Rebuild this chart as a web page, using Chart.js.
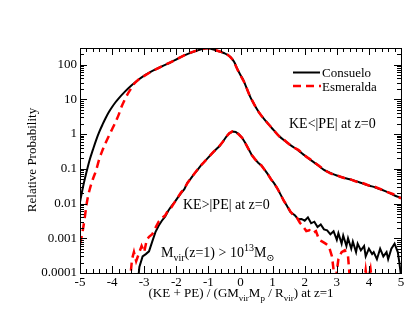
<!DOCTYPE html>
<html>
<head>
<meta charset="utf-8">
<script src="https://cdn.jsdelivr.net/npm/chart.js@4.4.0/dist/chart.umd.min.js"></script>
<style>
body { margin: 0; background: #fff; }
#wrap { width: 415px; height: 321px; }
</style>
</head>
<body>
<div id="wrap"><canvas id="myChart" width="415" height="321"></canvas></div>
<script>
// upper branch: KE<|PE| at z=0
var upperX = [-5, -4.9, -4.8, -4.7, -4.6, -4.5, -4.4, -4.3, -4.2, -4.1, -4.0, -3.9, -3.8, -3.6, -3.4, -3.2, -3.0,
  -2.8, -2.6, -2.4, -2.2, -2.0, -1.8, -1.6, -1.4, -1.2, -1.1, -1.0, -0.9, -0.8, -0.7, -0.6, -0.5, -0.4,
  -0.3, -0.2, -0.1, 0, 0.1, 0.2, 0.3, 0.4, 0.5, 0.6, 0.8, 1.0, 1.2, 1.4, 1.6, 1.8, 2.0, 2.2, 2.4, 2.6,
  2.8, 3.0, 3.2, 3.4, 3.6, 3.8, 4.0, 4.2, 4.4, 4.6, 4.8, 5.0];
var consueloUpper = [0.011, 0.032, 0.079, 0.18, 0.35, 0.66, 1.15, 1.86, 2.9, 4.3, 6, 8.1, 10.5, 16.6, 25, 35.5, 48,
  62, 76, 93, 113, 140, 175, 210, 245, 280, 292, 295, 282, 263, 246, 230, 212, 190,
  160, 120, 75, 50, 34, 20, 12, 8, 5.4, 3.9, 2.3, 1.4, 0.88, 0.62, 0.45, 0.34, 0.24, 0.175, 0.13, 0.093,
  0.076, 0.064, 0.056, 0.05, 0.044, 0.038, 0.033, 0.029, 0.025, 0.021, 0.017, 0.0145];
var esmeraldaUpperX = [-5, -4.95, -4.9, -4.85, -4.8, -4.75, -4.7, -4.6, -4.5, -4.4, -4.3, -4.2, -4.1, -4.0,
  -3.9, -3.8, -3.7, -3.6, -3.5, -3.4, -3.3, -3.2, -3.0, -2.8, -2.6, -2.4, -2.2, -2.0, -1.8, -1.6, -1.4,
  -1.2, -1.1, -1.0, -0.9, -0.8, -0.7, -0.6, -0.5, -0.4, -0.3, -0.2, -0.1, 0, 0.1, 0.2, 0.3, 0.4, 0.5,
  0.6, 0.8, 1.0, 1.2, 1.4, 1.6, 1.8, 2.0, 2.2, 2.4, 2.6, 2.8, 3.0, 3.2, 3.4, 3.6, 3.8, 4.0, 4.2, 4.4,
  4.6, 4.8, 5.0];
var esmeraldaUpper = [0.0007, 0.0011, 0.002, 0.004, 0.0089, 0.016, 0.025, 0.05, 0.089, 0.19, 0.34, 0.56, 0.89, 1.38,
  2.14, 3.5, 6.3, 10, 15, 21, 29, 35.5, 47, 61, 76, 94, 114, 140, 176, 212, 246,
  281, 293, 296, 283, 262, 247, 231, 213, 191, 158, 118, 74, 49, 33, 20, 12, 8, 5.3,
  3.9, 2.3, 1.42, 0.87, 0.63, 0.44, 0.35, 0.24, 0.18, 0.13, 0.095, 0.074, 0.065, 0.055, 0.051, 0.043, 0.039, 0.033, 0.03, 0.025,
  0.021, 0.018, 0.014];

// lower branch: KE>|PE| at z=0
var consueloLowerX = [-3.2, -3.15, -3.05, -2.95, -2.85, -2.75, -2.65, -2.55, -2.45, -2.35, -2.25, -2.15,
  -2.05, -1.95, -1.85, -1.75, -1.65, -1.55, -1.45, -1.35, -1.25, -1.15, -1.05, -0.95, -0.85, -0.75, -0.65,
  -0.55, -0.45, -0.35, -0.25, -0.15, -0.05, 0.05, 0.15, 0.25, 0.35, 0.45, 0.55, 0.65, 0.75, 0.85, 0.95,
  1.05, 1.15, 1.25, 1.35, 1.45, 1.55, 1.7, 1.8, 1.9, 2.0, 2.1, 2.2, 2.3, 2.4, 2.5, 2.6, 2.7, 2.8, 2.9,
  3.0, 3.05, 3.15, 3.2, 3.3, 3.35, 3.45, 3.5, 3.6, 3.65, 3.75, 3.85, 3.9, 4.0, 4.1, 4.15, 4.25, 4.35,
  4.45, 4.55, 4.6, 4.7, 4.8, 4.9, 4.95, 5.0];
var consueloLower = [0.00005, 0.00015, 0.0003, 0.00035, 0.00042, 0.0008, 0.0015, 0.0023, 0.0032, 0.0042, 0.0062, 0.0085,
  0.011, 0.015, 0.02, 0.026, 0.04, 0.052, 0.07, 0.09, 0.12, 0.15, 0.19, 0.24, 0.3, 0.37, 0.45,
  0.6, 0.82, 1.05, 1.18, 1.15, 0.98, 0.78, 0.55, 0.37, 0.25, 0.19, 0.15, 0.125, 0.095, 0.07, 0.05,
  0.038, 0.027, 0.018, 0.012, 0.0085, 0.0058, 0.0045, 0.0035, 0.0036, 0.0032, 0.004, 0.0027, 0.003, 0.0021, 0.0025, 0.0018, 0.0017, 0.0013, 0.0016,
  0.0009, 0.0014, 0.0007, 0.0012, 0.0006, 0.001, 0.0005, 0.0008, 0.0004, 0.0007, 0.00045, 0.0006, 0.0003, 0.0005, 0.00035, 0.0004, 0.00025, 0.0005,
  0.0003, 0.0004, 0.00025, 0.0005, 0.0007, 0.0004, 0.0002, 0.00008];
var esmeraldaLowerX = [-3.45, -3.38, -3.32, -3.25, -3.15, -3.08, -3.0, -2.92, -2.85, -2.75, -2.65, -2.55,
  -2.45, -2.35, -2.25, -2.15, -2.05, -1.95, -1.85, -1.75, -1.65, -1.55, -1.45, -1.35, -1.25, -1.15, -1.05,
  -0.95, -0.85, -0.75, -0.65, -0.55, -0.45, -0.35, -0.25, -0.15, -0.05, 0.05, 0.15, 0.25, 0.35, 0.45, 0.55,
  0.65, 0.75, 0.85, 0.95, 1.05, 1.15, 1.25, 1.35, 1.45, 1.55, 1.65, 1.75, 1.85, 1.95, 2.05, 2.15, 2.25,
  2.35, 2.45, 2.55, 2.65, 2.75, 2.85, 2.95, 3.05, 3.15, 3.25, 3.35, 3.42, 3.6, 3.85, 3.9, 3.95, 4.05, 4.1, 4.5, 5.0];
var esmeraldaLower = [0.00005, 0.00025, 0.0004, 0.00022, 0.0004, 0.0006, 0.0004, 0.0009, 0.0011, 0.0013, 0.002, 0.003,
  0.0038, 0.0045, 0.0065, 0.0078, 0.011, 0.015, 0.021, 0.027, 0.039, 0.053, 0.07, 0.092, 0.12, 0.15, 0.19,
  0.24, 0.3, 0.37, 0.46, 0.6, 0.83, 1.05, 1.19, 1.15, 0.97, 0.78, 0.55, 0.37, 0.25, 0.19, 0.15,
  0.125, 0.093, 0.07, 0.05, 0.038, 0.027, 0.018, 0.012, 0.0085, 0.006, 0.0045, 0.004, 0.0028, 0.0022, 0.0016, 0.0017, 0.0014,
  0.0016, 0.0009, 0.0008, 0.0007, 0.0006, 0.0003, 0.00005, 0.00025, 0.0004, 0.00045, 0.0003, 0.00005, 0.00005, 0.00005, 0.00012, 0.00005, 0.00013, 0.00005, 0.00005, 0.00005];

var xTickValues = [-5, -4, -3, -2, -1, 0, 1, 2, 3, 4, 5];
var xTickLabels = ['-5', '-4', '-3', '-2', '-1', '0', '1', '2', '3', '4', '5'];
var yTickValues = [0.0001, 0.001, 0.01, 0.1, 1, 10, 100];
var yTickLabels = ['0.0001', '0.001', '0.01', '0.1', '1', '10', '100'];

function pts(xs, ys) {
  var out = [];
  for (var i = 0; i < xs.length; i++) out.push({x: xs[i], y: ys[i]});
  return out;
}

var FONT = '"Liberation Serif", "DejaVu Serif", serif';

// text with sub/superscripts: kind 0 normal, 1 sub, 2 sup
function drawRich(ctx, x, y, runs, size) {
  var small = Math.round(size * 0.72);
  var cx = x;
  runs.forEach(function (r) {
    ctx.font = (r[1] ? small : size) + 'px ' + FONT;
    var dy = r[1] === 1 ? 4 : (r[1] === 2 ? -6 : 0);
    ctx.fillText(r[0], cx, y + dy);
    cx += ctx.measureText(r[0]).width;
  });
}
function richWidth(ctx, runs, size) {
  var small = Math.round(size * 0.72);
  var w = 0;
  runs.forEach(function (r) {
    ctx.font = (r[1] ? small : size) + 'px ' + FONT;
    w += ctx.measureText(r[0]).width;
  });
  return w;
}

var framePlugin = {
  id: 'frame',
  afterDraw: function (chart) {
    var ctx = chart.ctx;
    var a = chart.chartArea;
    var xs = chart.scales.x, ys = chart.scales.y;
    ctx.save();
    ctx.strokeStyle = '#000';
    ctx.lineWidth = 1;
    ctx.setLineDash([]);
    ctx.strokeRect(a.left + 0.5, a.top + 0.5, a.right - a.left, a.bottom - a.top);

    ctx.beginPath();
    // x ticks (inward, top and bottom)
    for (var v = -5; v <= 5.001; v += 0.2) {
      var px = Math.round(xs.getPixelForValue(v)) + 0.5;
      var major = Math.abs(v - Math.round(v)) < 0.01;
      var len = major ? 7 : 4;
      ctx.moveTo(px, a.bottom); ctx.lineTo(px, a.bottom - len);
      ctx.moveTo(px, a.top); ctx.lineTo(px, a.top + len);
    }
    // y ticks (log)
    for (var d = -4; d <= 2; d++) {
      for (var k = 1; k <= 9; k++) {
        var val = k * Math.pow(10, d);
        if (val > 300) break;
        var py = Math.round(ys.getPixelForValue(val)) + 0.5;
        var l2 = k === 1 ? 7 : 4;
        ctx.moveTo(a.left, py); ctx.lineTo(a.left + l2, py);
        ctx.moveTo(a.right, py); ctx.lineTo(a.right - l2, py);
      }
    }
    ctx.stroke();

    ctx.fillStyle = '#000';
    ctx.font = '13px ' + FONT;
    ctx.textAlign = 'center';
    ctx.textBaseline = 'alphabetic';
    xTickValues.forEach(function (t, i) {
      ctx.fillText(xTickLabels[i], xs.getPixelForValue(t), 286);
    });
    ctx.textAlign = 'right';
    ctx.textBaseline = 'middle';
    yTickValues.forEach(function (t, i) {
      ctx.fillText(yTickLabels[i], 77, ys.getPixelForValue(t));
    });

    // axis titles
    ctx.textAlign = 'left';
    ctx.textBaseline = 'alphabetic';
    var xTitle = [['(KE + PE) / (GM', 0], ['vir', 1], ['M', 0], ['p', 1], [' / R', 0], ['vir', 1], [') at z=1', 0]];
    var w = richWidth(ctx, xTitle, 13);
    drawRich(ctx, 241 - w / 2, 297, xTitle, 13);

    ctx.save();
    ctx.translate(36, 160);
    ctx.rotate(-Math.PI / 2);
    ctx.textAlign = 'center';
    ctx.font = '13px ' + FONT;
    ctx.fillText('Relative Probability', 0, 0);
    ctx.restore();

    // annotations
    ctx.font = '14px ' + FONT;
    ctx.fillText('KE<|PE| at z=0', 289, 128);
    ctx.fillText('KE>|PE| at z=0', 183, 209);
    drawRich(ctx, 161, 257, [['M', 0], ['vir', 1], ['(z=1) > 10', 0], ['13', 2], ['M', 0], ['\u2299', 1]], 14);

    // legend
    ctx.lineWidth = 2;
    ctx.strokeStyle = '#000';
    ctx.beginPath(); ctx.moveTo(293, 72.5); ctx.lineTo(320, 72.5); ctx.stroke();
    ctx.strokeStyle = '#ff0000';
    ctx.lineWidth = 2.5;
    ctx.setLineDash([8, 5]);
    ctx.beginPath(); ctx.moveTo(293, 86); ctx.lineTo(321, 86); ctx.stroke();
    ctx.setLineDash([]);
    ctx.font = '13px ' + FONT;
    ctx.fillText('Consuelo', 322, 77);
    ctx.fillText('Esmeralda', 322, 91);
    ctx.restore();
  }
};

var ctx = document.getElementById('myChart').getContext('2d');
var myChart = new Chart(ctx, {
  type: 'line',
  data: {
    datasets: [{
      label: 'Consuelo',
      data: pts(upperX, consueloUpper),
      borderColor: '#000', borderWidth: 2, pointRadius: 0,
      cubicInterpolationMode: 'monotone', order: 1, clip: 0
    }, {
      label: 'Consuelo',
      data: pts(consueloLowerX, consueloLower),
      borderColor: '#000', borderWidth: 2, pointRadius: 0,
      tension: 0, order: 1, clip: 0
    }, {
      label: 'Esmeralda',
      data: pts(esmeraldaUpperX, esmeraldaUpper),
      borderColor: '#ff0000', borderWidth: 2.5, borderDash: [8, 5], pointRadius: 0,
      cubicInterpolationMode: 'monotone', order: 0, clip: 0
    }, {
      label: 'Esmeralda',
      data: pts(esmeraldaLowerX, esmeraldaLower),
      borderColor: '#ff0000', borderWidth: 2.5, borderDash: [8, 5], pointRadius: 0,
      tension: 0, order: 0, clip: 0
    }]
  },
  options: {
    responsive: false,
    animation: false,
    layout: { padding: { left: 80, right: 14, top: 48, bottom: 48 } },
    plugins: { legend: { display: false }, tooltip: { enabled: false } },
    scales: {
      x: { type: 'linear', min: -5, max: 5, display: false },
      y: { type: 'logarithmic', min: 0.0001, max: 300, display: false }
    }
  },
  plugins: [framePlugin]
});
</script>
</body>
</html>
